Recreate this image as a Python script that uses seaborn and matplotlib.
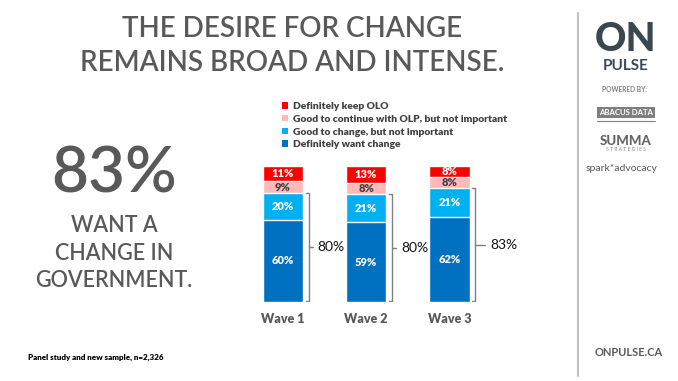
import numpy as np
import pandas as pd
import matplotlib.pyplot as plt
import seaborn as sns
from matplotlib.lines import Line2D
from matplotlib.patches import Patch

waves = ['Wave 1', 'Wave 2', 'Wave 3']
segments = ['Definitely want change', 'Good to change, but not important',
            'Good to continue with OLP, but not important', 'Definitely keep OLO']
want_change = [60, 59, 62]
good_change = [20, 21, 21]
good_continue = [9, 8, 8]
keep_olo = [11, 13, 8]
colors = ['#0070c0', '#00b0f0', '#ffb9b9', '#ff0000']
label_colors = ['white', 'white', '#404040', 'white']

sns.set_theme(style='white')
plt.rcParams['font.family'] = ['Lato', 'DejaVu Sans']

vals = np.array([want_change, good_change, good_continue, keep_olo], dtype=float)
share = vals / vals.sum(axis=0) * 100
cum = share.cumsum(axis=0)

fig = plt.figure(figsize=(6.78, 3.81), dpi=100)
W, H = 678, 381
ax = fig.add_axes([241 / W, (H - 301.7) / H, 291.9 / W, 135.7 / H])

# stacked bars: draw cumulative totals from the top segment down
for k in range(3, -1, -1):
    df = pd.DataFrame({'wave': waves, 'cum': cum[k]})
    sns.barplot(data=df, x='wave', y='cum', order=waves, color=colors[k],
                saturation=1, width=0.48, errorbar=None, ax=ax)

for k in range(4):
    for i in range(3):
        ax.text(i, cum[k][i] - share[k][i] / 2, f'{int(vals[k][i])}%',
                ha='center', va='center', fontsize=8, fontweight='heavy',
                color=label_colors[k])

# brackets for total wanting change
tick_len = [0.05, 0.05, 0.12]
for i in range(3):
    top = cum[1][i]
    xb = i + 0.24 + 0.07
    ax.plot([xb - 0.035, xb, xb, xb - 0.035], [top, top, 0.3, 0.3],
            color='#808080', lw=1, solid_joinstyle='round')
    ax.plot([xb, xb + tick_len[i]], [top / 2, top / 2], color='#808080', lw=1)
    ax.text(xb + tick_len[i] + 0.06, top / 2,
            f'{int(want_change[i] + good_change[i])}%',
            ha='left', va='center', fontsize=10, color='#111111')

ax.set_xlim(-0.5, 3.0)
ax.set_ylim(0, 100)
ax.set_xlabel('')
ax.set_ylabel('')
ax.set_yticks([])
ax.tick_params(axis='x', length=0, pad=8)
for lbl in ax.get_xticklabels():
    lbl.set_fontweight('heavy')
    lbl.set_fontsize(9)
    lbl.set_color('#595959')
sns.despine(ax=ax, left=True, bottom=True)

handles = [Patch(facecolor=colors[k], edgecolor='none') for k in range(3, -1, -1)]
fig.legend(handles, segments[::-1], loc='upper left',
           bbox_to_anchor=(277 / W, 1 - 97 / H), frameon=False,
           handlelength=0.6, handleheight=0.6,
           handletextpad=0.45, labelspacing=0.36, borderpad=0,
           labelcolor='#404040', prop={'weight': 'heavy', 'size': 7.4})

gray = '#595959'
fig.text(292 / W, 1 - 37 / H, 'THE DESIRE FOR CHANGE', ha='center',
         va='baseline', fontsize=20, fontweight='semibold', color=gray)
fig.text(292 / W, 1 - 71 / H, 'REMAINS BROAD AND INTENSE.', ha='center',
         va='baseline', fontsize=20, fontweight='semibold', color=gray)

fig.text(114 / W, 1 - 193 / H, '83%', ha='center', va='baseline',
         fontsize=46, fontweight='semibold', color=gray)
for txt, yb in zip(['WANT A', 'CHANGE IN', 'GOVERNMENT.'], [232, 260, 287]):
    fig.text(114 / W, 1 - yb / H, txt, ha='center', va='baseline',
             fontsize=15.5, fontweight='semibold', color=gray)

fig.text(28 / W, 1 - 360 / H, 'Panel study and new sample, n=2,326',
         ha='left', va='baseline', fontsize=5.8, fontweight='heavy', color='black')

# right side panel
fig.add_artist(Line2D([578 / W, 578 / W], [1 - 13 / H, 1 - 376 / H],
                      color='#bfbfbf', lw=1.5))
slate = '#3a4750'
fig.text(626 / W, 1 - 51 / H, 'ON', ha='center', va='baseline',
         fontsize=28, fontweight='black', color=slate)
fig.text(626 / W, 1 - 70 / H, 'PULSE', ha='center', va='baseline',
         fontsize=11, fontweight='bold', color=slate)
fig.text(625 / W, 1 - 92 / H, 'POWERED BY:', ha='center', va='baseline',
         fontsize=4.8, fontweight='bold', color='#7f7f7f')
fig.text(626 / W, 1 - 115 / H, 'ABACUS DATA', ha='center', va='baseline',
         fontsize=5.6, fontweight='bold', color='white',
         bbox=dict(facecolor='#7f7f7f', edgecolor='none', pad=1.6))
fig.add_artist(Line2D([597 / W, 655 / W], [1 - 121 / H, 1 - 121 / H],
                      color='#7f7f7f', lw=0.8))
fig.text(626 / W, 1 - 145 / H, 'SUMMA', ha='center', va='baseline',
         fontsize=9.5, fontweight='black', color='#666666')
fig.text(626 / W, 1 - 151 / H, 'S T R A T E G I E S', ha='center', va='baseline',
         fontsize=3.6, color='#8c8c8c')
fig.text(622 / W, 1 - 171 / H, 'spark*advocacy', ha='center', va='baseline',
         fontsize=7.5, color='#595959')
fig.text(629 / W, 1 - 356 / H, 'ONPULSE.CA', ha='center', va='baseline',
         fontsize=8, fontweight='bold', color=gray)

fig.savefig('out.png', dpi=100, facecolor='white')
